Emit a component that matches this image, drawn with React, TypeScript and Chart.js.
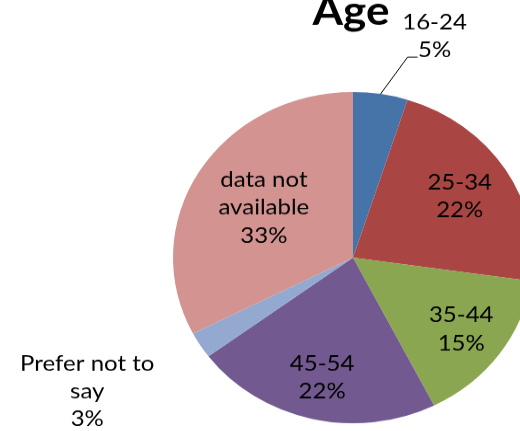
import React, { useEffect, useRef } from "react";
import { Chart, registerables } from "chart.js";

Chart.register(...registerables);

// ---- data ----
const title = "Age";
const categories = ["16-24", "25-34", "35-44", "45-54", "Prefer not to\nsay", "data not\navailable"];
const values = [4.9, 22.4, 15.3, 22.3, 2.6, 32.6];
const colors = ["#4673A8", "#A94644", "#8AA650", "#72598F", "#93A9D0", "#D29391"];

// ---- layout ----
const SCALE_Y = 0.92;
const CANVAS_W = 706;
const CANVAS_H = 560;
const insideLabel = [false, true, true, true, false, true];
const insideRadius = [0, 0.7, 0.74, 0.745, 0, 0.58];
const outsideOffset: Record<number, [number, number]> = { 0: [54, -63], 4: [-113, 50] };
const leaderFor = [0];
const FONT = "Lato, 'Open Sans', sans-serif";
const LABEL_SIZE = 24;
const LINE_H = 30.4;

const labelPlugin = {
  id: "customLabels",
  afterDatasetsDraw(chart: any) {
    const ctx: CanvasRenderingContext2D = chart.ctx;
    const meta = chart.getDatasetMeta(0);
    const data = chart.data.datasets[0].data as number[];
    const total = data.reduce((a, b) => a + b, 0);
    ctx.save();
    ctx.textAlign = "center";
    ctx.textBaseline = "middle";
    ctx.fillStyle = "#000";
    ctx.font = `${LABEL_SIZE}px ${FONT}`;
    meta.data.forEach((arc: any, i: number) => {
      const p = arc.getProps(["x", "y", "startAngle", "endAngle", "outerRadius"], true);
      const mid = (p.startAngle + p.endAngle) / 2;
      const pct = Math.round((data[i] / total) * 100);
      const lines = [...String(chart.data.labels[i]).split("\n"), pct + "%"];
      let cx: number, cy: number;
      const ex = p.x + Math.cos(mid) * p.outerRadius;
      const ey = p.y + Math.sin(mid) * p.outerRadius;
      if (insideLabel[i]) {
        cx = p.x + Math.cos(mid) * p.outerRadius * insideRadius[i];
        cy = p.y + Math.sin(mid) * p.outerRadius * insideRadius[i];
      } else {
        const off = outsideOffset[i] || [0, 0];
        cx = ex + off[0];
        cy = ey + off[1];
        if (leaderFor.includes(i)) {
          ctx.beginPath();
          ctx.strokeStyle = "#000";
          ctx.lineWidth = 1;
          ctx.moveTo(ex, ey);
          ctx.lineTo(cx - 27, cy + 23);
          ctx.lineTo(cx - 17, cy + 23);
          ctx.stroke();
        }
      }
      const startY = cy - ((lines.length - 1) * LINE_H) / 2;
      lines.forEach((ln, k) => ctx.fillText(ln, cx, startY + k * LINE_H));
    });
    // title
    ctx.font = `bold 44px ${FONT}`;
    ctx.textBaseline = "alphabetic";
    ctx.fillText(title, 351, 27);
    ctx.restore();
  },
};

export default function App() {
  const ref = useRef<HTMLCanvasElement | null>(null);
  useEffect(() => {
    if (!ref.current) return;
    const chart = new Chart(ref.current, {
      type: "pie",
      data: {
        labels: categories,
        datasets: [
          {
            data: values,
            backgroundColor: colors,
            borderWidth: 0,
            hoverOffset: 0,
          },
        ],
      },
      options: {
        responsive: false,
        animation: false,
        devicePixelRatio: 1,
        layout: { padding: { left: 173, right: 173, top: 100, bottom: 100 } },
        plugins: {
          legend: { display: false },
          tooltip: { enabled: false },
          title: { display: false },
        },
      },
      plugins: [labelPlugin],
    });
    return () => chart.destroy();
  }, []);
  return (
    <div
      style={{
        position: "absolute",
        left: 0,
        top: 0,
        width: 520,
        height: 431,
        overflow: "hidden",
        background: "#fff",
      }}
    >
      <canvas
        ref={ref}
        width={CANVAS_W}
        height={CANVAS_H}
        style={{
          display: "block",
          transform: `scaleY(${SCALE_Y})`,
          transformOrigin: "0 0",
        }}
      />
    </div>
  );
}
